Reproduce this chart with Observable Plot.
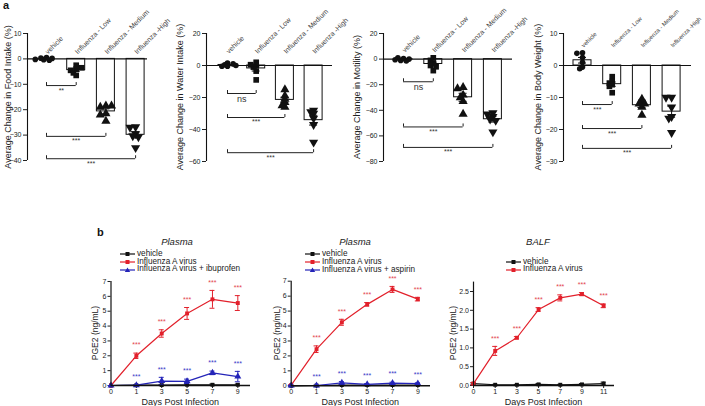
<!DOCTYPE html>
<html><head><meta charset="utf-8">
<script src="https://cdn.jsdelivr.net/npm/d3@7"></script>
<script src="https://cdn.jsdelivr.net/npm/@observablehq/plot@0.6"></script>
<style>
html,body{margin:0;padding:0;background:#fff;}
#root{position:relative;width:705px;height:406px;overflow:hidden;font-family:"Liberation Sans",Arial,sans-serif;color:#111;}
.abs{position:absolute;}
.ylab{position:absolute;transform:translate(-50%,-50%) rotate(-90deg);white-space:nowrap;font-size:9px;line-height:1;color:#222;}
.lg{position:absolute;display:flex;align-items:center;height:8px;font-size:8.2px;line-height:1;white-space:nowrap;color:#222;}
.lg svg{display:block;margin-right:1px;}
</style></head><body><div id="root"></div>
<script>
// ---------- Panel a data ----------
const groups = ["vehicle", "Influenza - Low", "Influenza - Medium", "Influenza -High"];
const foodIntake = [
  [0.5, -0.3, 0.2, -0.5, 0.3, -0.2],
  [-2.5, -4, -4.5, -6.5, -5.5, -3.5],
  [-18.5, -19, -18.5, -21.5, -22, -24.5],
  [-26.8, -27, -29.5, -30.3, -30.7, -35]
];
const waterIntake = [
  [1.5, 0.5, -0.5, 1, -0.5, 0],
  [2, 0, -1, 0.5, -3.5, -9],
  [-15, -19, -21, -26, -23, -25],
  [-28, -29, -30, -33, -37, -48]
];
const motility = [
  [0.5, 1, -1, 0, -0.5, -1.5],
  [1, -1, -3, -5, -6, -9],
  [-22, -23, -28, -30, -33, -43],
  [-42, -43, -45, -47, -48, -57]
];
const bodyWeight = [
  [4, 3.8, 2.5, 1, -0.5, -1],
  [-3.5, -5, -5.5, -6, -6.5, -8.5],
  [-10.5, -11.5, -12, -12, -13, -15.5],
  [-10, -10, -13, -16, -16.5, -21]
];
// significance brackets: target group, level, label
const sigFood = [{to: 1, y: -10.5, label: "**"}, {to: 2, y: -30.5, label: "***"}, {to: 3, y: -39.3, label: "***"}];
const sigWater = [{to: 1, y: -17.5, label: "ns"}, {to: 2, y: -32.5, label: "***"}, {to: 3, y: -54.5, label: "***"}];
const sigMotility = [{to: 1, y: -17.7, label: "ns"}, {to: 2, y: -53, label: "***"}, {to: 3, y: -69, label: "***"}];
const sigWeight = [{to: 1, y: -12.2, label: "***"}, {to: 2, y: -19.7, label: "***"}, {to: 3, y: -25.9, label: "***"}];

// ---------- Panel b data ----------
const plasmaDays = [0, 1, 3, 5, 7, 9];
const balfDays = [0, 1, 3, 5, 7, 9, 11];
const ibuVehicle = [0, 0.02, 0.03, 0.05, 0.05, 0.05];
const ibuVehicleErr = [0, 0.02, 0.04, 0.05, 0.05, 0.05];
const ibuVirus = [0, 2.0, 3.5, 4.85, 5.8, 5.55];
const ibuVirusErr = [0, 0.18, 0.25, 0.4, 0.6, 0.5];
const ibuDrug = [0, 0.02, 0.3, 0.28, 0.85, 0.6];
const ibuDrugErr = [0, 0.02, 0.25, 0.15, 0.12, 0.35];
const aspVehicle = [0, 0.02, 0.05, 0.05, 0.05, 0.05];
const aspVehicleErr = [0, 0.02, 0.03, 0.03, 0.03, 0.03];
const aspVirus = [0.05, 2.45, 4.25, 5.45, 6.45, 5.8];
const aspVirusErr = [0.03, 0.22, 0.2, 0.12, 0.2, 0.12];
const aspDrug = [0.02, 0.02, 0.2, 0.1, 0.18, 0.15];
const aspDrugErr = [0.02, 0.02, 0.08, 0.05, 0.06, 0.05];
const balfVehicle = [0.05, 0.02, 0.02, 0.03, 0.02, 0.03, 0.05];
const balfVehicleErr = [0.02, 0.01, 0.01, 0.02, 0.01, 0.02, 0.04];
const balfVirus = [0.05, 0.92, 1.27, 2.02, 2.33, 2.43, 2.12];
const balfVirusErr = [0.03, 0.12, 0.03, 0.05, 0.08, 0.04, 0.05];

const FONT = '"Liberation Sans", Arial, sans-serif';
const RED = "#e2202b", BLUE = "#2424b8", BLACK = "#111";
const root = document.getElementById("root");

function place(node, left, top) {
  const div = document.createElement("div");
  div.className = "abs";
  div.style.left = left + "px";
  div.style.top = top + "px";
  div.appendChild(node);
  root.appendChild(div);
}
function yLabel(text, cx, cy, size) {
  const el = document.createElement("div");
  el.className = "ylab";
  el.style.left = cx + "px";
  el.style.top = cy + "px";
  if (size) el.style.fontSize = size + "px";
  el.textContent = text;
  root.appendChild(el);
}

// simple beeswarm-like horizontal spreading (pixel space)
function dodge(vals, ppuY, ppuX, d) {
  const placed = [], out = [];
  vals.forEach((v, i) => {
    const py = v * ppuY;
    for (const k of [0, -1, 1, -2, 2, -3, 3, -4, 4]) {
      const px = k * d * 0.5;
      if (placed.every(p => (p[0] - px) ** 2 + (p[1] - py) ** 2 >= (0.55 * d) ** 2)) {
        placed.push([px, py]); out[i] = px / ppuX; return;
      }
    }
    out[i] = 0;
  });
  return out;
}

function topPanel(p) {
  const H = 200, top = 33;
  const xmin = (p.axisPx - p.x0Px) / p.step, xmax = (p.endPx - p.x0Px) / p.step;
  const ppuY = (p.bottomPx - top) / (p.yDomain[1] - p.yDomain[0]);
  const d = 5.6;
  const rows = [];
  p.data.forEach((vals, g) => {
    const off = dodge(vals, ppuY, p.step, d);
    vals.forEach((v, i) => rows.push({g, v, x: g + off[i]}));
  });
  const stats = p.data.map((vals, g) => ({g, mean: d3.mean(vals), sem: d3.deviation(vals) / Math.sqrt(vals.length)}));
  const bw = 9 / p.step, cap = 4 / p.step, tk = 3 / ppuY;
  const symbols = ["circle", "square", "triangle", "triangle"];
  const radii = [2.8, 3.2, 3.4, 3.4];
  const plot = Plot.plot({
    width: p.width, height: H,
    marginLeft: p.axisPx - p.left, marginRight: p.left + p.width - p.endPx,
    marginTop: top, marginBottom: H - p.bottomPx,
    x: {domain: [xmin, xmax], axis: null},
    y: {domain: p.yDomain, axis: null},
    style: {fontFamily: FONT, fontSize: "7px", color: "#222", background: "transparent", overflow: "visible"},
    marks: [
      Plot.axisY({ticks: p.ticks, tickSize: 4, tickPadding: 2, label: null, fontSize: 7}),
      Plot.ruleY([0], {stroke: BLACK, strokeWidth: 1.1}),
      Plot.ruleX([xmin], {stroke: BLACK, strokeWidth: 1.1}),
      Plot.rect(stats, {x1: d => d.g - bw, x2: d => d.g + bw, y1: () => 0, y2: "mean", fill: "none", stroke: BLACK, strokeWidth: 1}),
      ...[0, 1, 2, 3].map(g => Plot.dot(rows.filter(r => r.g === g), {x: "x", y: "v", symbol: symbols[g], r: radii[g], fill: BLACK, stroke: "none", rotate: g === 3 ? 180 : 0})),
      Plot.ruleX(stats, {x: "g", y1: d => d.mean - d.sem, y2: d => d.mean + d.sem, stroke: BLACK, strokeWidth: 1}),
      Plot.ruleY(stats, {y: d => d.mean - d.sem, x1: d => d.g - cap, x2: d => d.g + cap, stroke: BLACK, strokeWidth: 1}),
      Plot.ruleY(stats, {y: d => d.mean + d.sem, x1: d => d.g - cap, x2: d => d.g + cap, stroke: BLACK, strokeWidth: 1}),
      Plot.ruleY(p.sig, {y: "y", x1: () => 0, x2: "to", stroke: "#222", strokeWidth: 1}),
      Plot.ruleX(p.sig, {x: () => 0, y1: "y", y2: d => d.y + tk, stroke: "#222", strokeWidth: 1}),
      Plot.ruleX(p.sig, {x: "to", y1: "y", y2: d => d.y + tk, stroke: "#222", strokeWidth: 1}),
      Plot.text(p.sig, {x: d => d.to / 2, y: "y", text: "label", fontSize: d => d.label === "ns" ? 9 : 7, lineAnchor: "top", dy: 2, fill: "#333"}),
      Plot.text(groups, {x: (d, i) => i, y: () => 0, text: d => d, rotate: -45, textAnchor: "start", dy: p.catDy, fontSize: p.catFont, fill: "#444"})
    ]
  });
  place(plot, p.left, 0);
  yLabel(p.label, p.labelX, (top + p.bottomPx) / 2);
}

topPanel({data: foodIntake, sig: sigFood, label: "Average Change in Food Intake (%)", left: 0, width: 175, axisPx: 27, x0Px: 46, step: 29.7, endPx: 147, yDomain: [-40, 10], ticks: [10, 0, -10, -20, -30, -40], bottomPx: 160, catDy: -6, catFont: 7, labelX: 8});
topPanel({data: waterIntake, sig: sigWater, label: "Average Change in Water Intake (%)", left: 175, width: 175, axisPx: 206, x0Px: 227, step: 28.7, endPx: 332, yDomain: [-60, 20], ticks: [20, 0, -20, -40, -60], bottomPx: 161, catDy: -13, catFont: 7, labelX: 180});
topPanel({data: motility, sig: sigMotility, label: "Average Change in Motility (%)", left: 350, width: 175, axisPx: 383, x0Px: 403, step: 29.8, endPx: 512, yDomain: [-80, 20], ticks: [20, 0, -20, -40, -60, -80], bottomPx: 161, catDy: -8, catFont: 7, labelX: 357});
topPanel({data: bodyWeight, sig: sigWeight, label: "Average Change in Body Weight (%)", left: 525, width: 180, axisPx: 563, x0Px: 582, step: 29.7, endPx: 691, yDomain: [-30, 10], ticks: [10, 0, -10, -20, -30], bottomPx: 161, catDy: -19, catFont: 6, labelX: 538});

function bottomPanel(p) {
  const top = 270, H = 136;
  const marks = [
    Plot.axisY({ticks: p.yTicks, tickSize: 3, tickPadding: 1.5, label: null, fontSize: 7, tickFormat: p.yFormat}),
    Plot.axisX({ticks: d3.range(p.days.length), tickFormat: i => p.days[i], tickSize: 3, tickPadding: 0.5, label: null, fontSize: 7}),
  ];
  const capHalf = 2.5 / p.step;
  for (const s of p.series) {
    const rows = s.v.map((v, i) => ({i, v, e: s.e[i]}));
    marks.push(
      Plot.line(rows, {x: "i", y: "v", stroke: s.color, strokeWidth: 1.2}),
      Plot.ruleX(rows, {x: "i", y1: d => d.v - d.e, y2: d => d.v + d.e, stroke: s.color, strokeWidth: 1}),
      Plot.ruleY(rows, {y: d => d.v - d.e, x1: d => d.i - capHalf, x2: d => d.i + capHalf, stroke: s.color, strokeWidth: 1}),
      Plot.ruleY(rows, {y: d => d.v + d.e, x1: d => d.i - capHalf, x2: d => d.i + capHalf, stroke: s.color, strokeWidth: 1}),
      Plot.dot(rows, {x: "i", y: "v", symbol: s.symbol, r: s.symbol === "triangle" ? 2.6 : 2.2, fill: s.color, stroke: "none"})
    );
    if (s.stars) marks.push(Plot.text(rows.filter(d => d.i >= 1), {x: "i", y: d => d.v + d.e, text: () => "***", dy: -8, fontSize: 7, fill: s.starColor}));
  }
  marks.push(
    Plot.ruleY([0], {stroke: BLACK, strokeWidth: 1.4}),
    Plot.ruleX([0], {stroke: BLACK, strokeWidth: 1.2})
  );
  const plot = Plot.plot({
    width: p.width, height: H,
    marginLeft: p.axisPx - p.left, marginRight: p.left + p.width - p.endPx,
    marginTop: p.topPx - top, marginBottom: top + H - p.zeroPx,
    x: {domain: [0, p.xmax], axis: null},
    y: {domain: [0, p.ymax], axis: null},
    style: {fontFamily: FONT, fontSize: "7px", color: "#222", background: "transparent", overflow: "visible"},
    marks
  });
  place(plot, p.left, top);
  yLabel("PGE2 (ng/mL)", p.labelX, (p.topPx + p.zeroPx) / 2, 8.5);

  // x label
  const xl = document.createElement("div");
  xl.className = "abs";
  xl.style.cssText = `left:${(p.axisPx + p.endPx) / 2}px;top:401.5px;transform:translate(-50%,-50%);font-size:9px;line-height:1;color:#222;white-space:nowrap;`;
  xl.textContent = "Days Post Infection";
  root.appendChild(xl);
  // title
  const t = document.createElement("div");
  t.className = "abs";
  t.style.cssText = `left:${p.titleX}px;top:242px;transform:translate(-50%,-50%);font-style:italic;font-size:9.5px;line-height:1;color:#222;white-space:nowrap;`;
  t.textContent = p.title;
  root.appendChild(t);
  // legend
  p.series.forEach((s, k) => {
    const row = document.createElement("div");
    row.className = "lg";
    row.style.left = p.legendX + "px";
    row.style.top = (p.legendY[k] - 4) + "px";
    const sw = d3.create("svg").attr("width", 16).attr("height", 8);
    sw.append("line").attr("x1", 0).attr("x2", 15).attr("y1", 4).attr("y2", 4).attr("stroke", s.color).attr("stroke-width", 1.2);
    if (s.symbol === "triangle") sw.append("path").attr("d", "M7.5,1.5L10.2,6L4.8,6Z").attr("fill", s.color);
    else sw.append("rect").attr("x", 5.5).attr("y", 2).attr("width", 4).attr("height", 4).attr("fill", s.color);
    row.appendChild(sw.node());
    const sp = document.createElement("span");
    sp.textContent = s.label;
    row.appendChild(sp);
    root.appendChild(row);
  });
}

bottomPanel({
  left: 60, width: 200, axisPx: 110.5, endPx: 250, xmax: 5.5, step: 25.4, topPx: 281, zeroPx: 385, ymax: 7,
  yTicks: [0, 1, 2, 3, 4, 5, 6, 7], yFormat: d3.format("d"), days: plasmaDays, labelX: 95,
  title: "Plasma", titleX: 177, legendX: 120, legendY: [254, 262, 269.5],
  series: [
    {label: "vehicle", v: ibuVehicle, e: ibuVehicleErr, color: BLACK, symbol: "square"},
    {label: "Influenza A virus", v: ibuVirus, e: ibuVirusErr, color: RED, symbol: "square", stars: true, starColor: "#e3454e"},
    {label: "Influenza A virus + ibuprofen", v: ibuDrug, e: ibuDrugErr, color: BLUE, symbol: "triangle", stars: true, starColor: "#3a3ac8"}
  ]
});
bottomPanel({
  left: 240, width: 200, axisPx: 290.7, endPx: 430, xmax: 5.5, step: 25.4, topPx: 280.7, zeroPx: 385.3, ymax: 7,
  yTicks: [0, 1, 2, 3, 4, 5, 6, 7], yFormat: d3.format("d"), days: plasmaDays, labelX: 277,
  title: "Plasma", titleX: 355, legendX: 305, legendY: [254, 262, 270],
  series: [
    {label: "vehicle", v: aspVehicle, e: aspVehicleErr, color: BLACK, symbol: "square"},
    {label: "Influenza A virus", v: aspVirus, e: aspVirusErr, color: RED, symbol: "square", stars: true, starColor: "#e3454e"},
    {label: "Influenza A virus + aspirin", v: aspDrug, e: aspDrugErr, color: BLUE, symbol: "triangle", stars: true, starColor: "#3a3ac8"}
  ]
});
bottomPanel({
  left: 420, width: 200, axisPx: 473, endPx: 614, xmax: 6.5, step: 21.7, topPx: 281.6, zeroPx: 385, ymax: 2.75,
  yTicks: [0, 0.5, 1, 1.5, 2, 2.5], yFormat: d3.format(".1f"), days: balfDays, labelX: 453,
  title: "BALF", titleX: 538, legendX: 506, legendY: [261.7, 269.5],
  series: [
    {label: "vehicle", v: balfVehicle, e: balfVehicleErr, color: BLACK, symbol: "square"},
    {label: "Influenza A virus", v: balfVirus, e: balfVirusErr, color: RED, symbol: "square", stars: true, starColor: "#e3454e"}
  ]
});

// panel letters
for (const [txt, x, y] of [["a", 3, -1], ["b", 97, 226]]) {
  const el = document.createElement("div");
  el.className = "abs";
  el.style.cssText = `left:${x}px;top:${y}px;font-weight:bold;font-size:11px;color:#111;`;
  el.textContent = txt;
  root.appendChild(el);
}
</script></body></html>
